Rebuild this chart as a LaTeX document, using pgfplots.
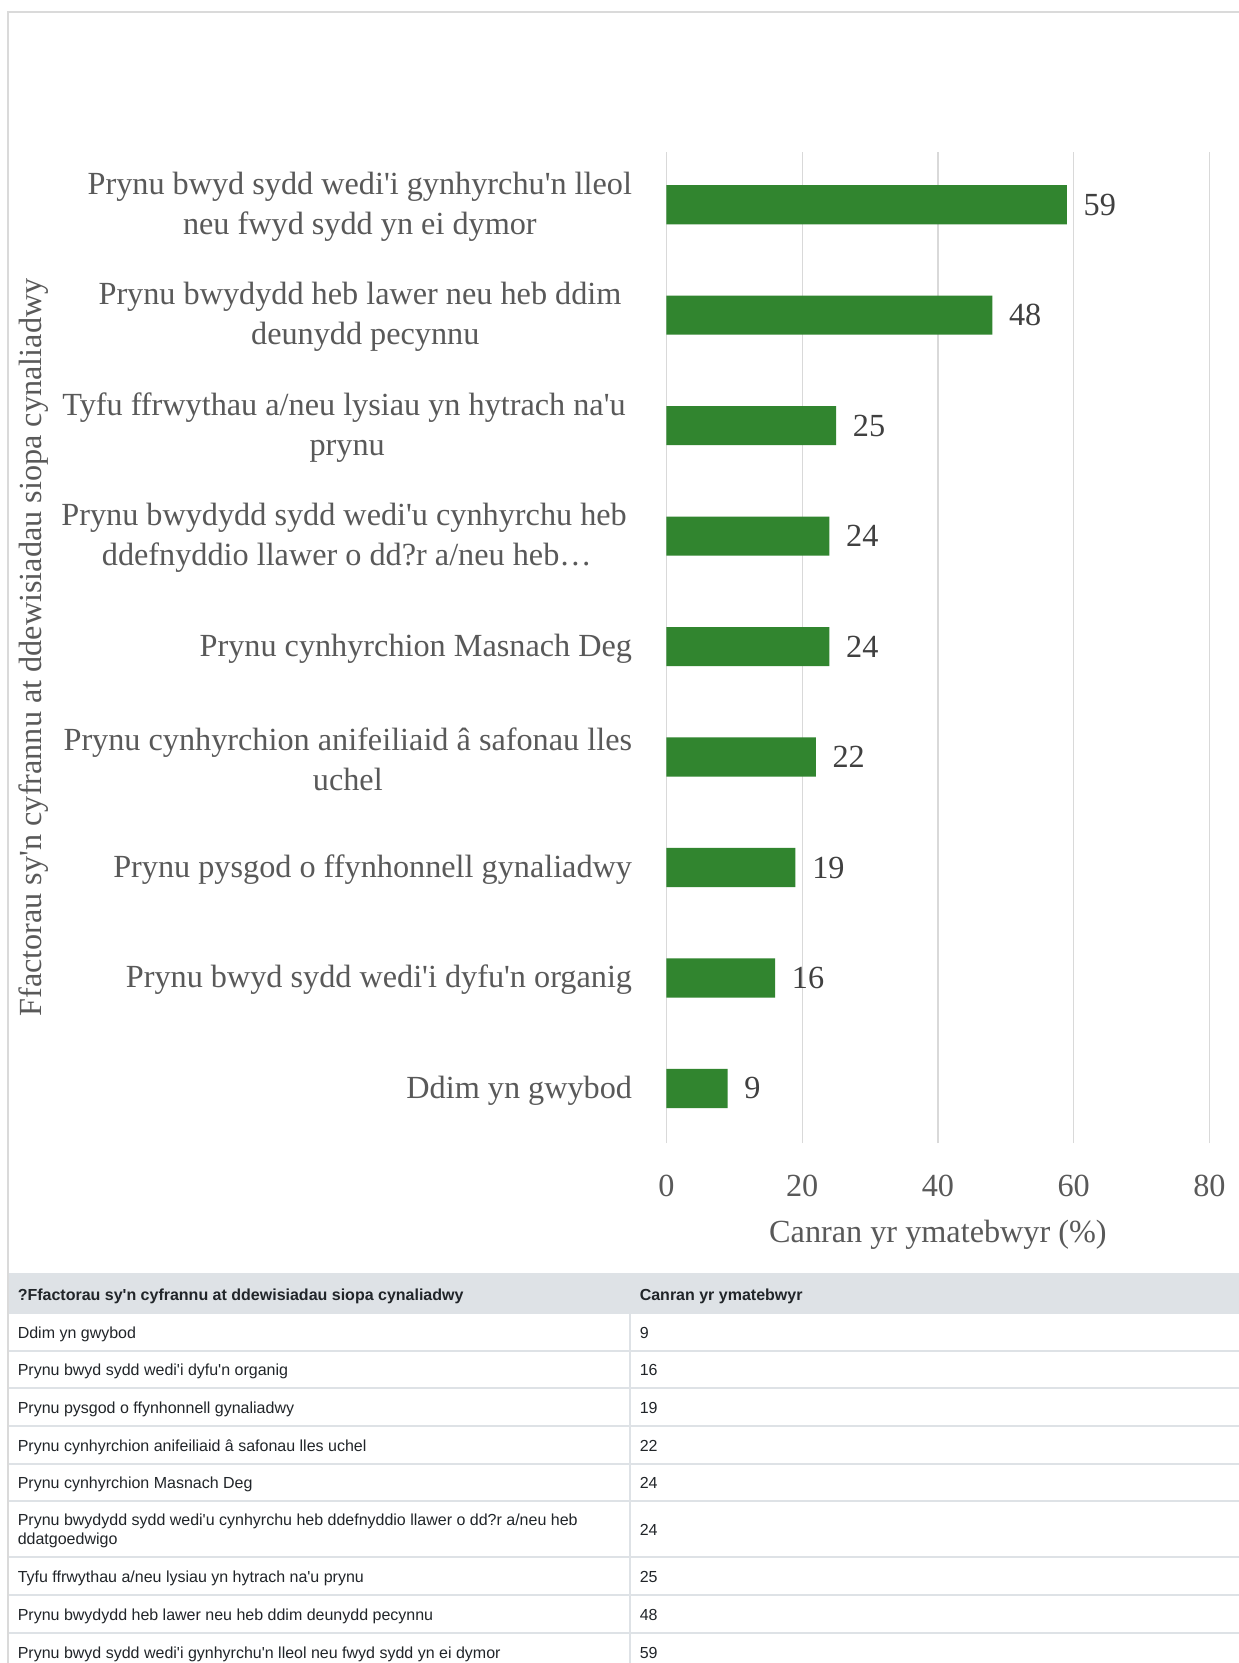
\documentclass[border=0pt]{standalone}
\usepackage{fontspec}
\setmainfont{Liberation Serif}[Ligatures=TeXOff]
\newfontfamily\tablefont{Liberation Sans}
\usepackage{pgfplots}
\pgfplotsset{compat=1.18}
\definecolor{bargreen}{RGB}{49,133,47}
\definecolor{labelgrey}{RGB}{89,89,89}
\definecolor{valgrey}{RGB}{64,64,64}
\definecolor{gridgrey}{RGB}{217,217,217}
\definecolor{tablegrey}{RGB}{222,226,230}
\definecolor{tabletext}{RGB}{33,37,41}
\definecolor{framegrey}{RGB}{218,218,218}
\newcommand\chartfont{\fontsize{8.06pt}{10pt}\selectfont}
\begin{document}
\begin{tikzpicture}
\useasboundingbox (0,0) rectangle (309.75pt,-415.75pt);
\fill[white] (0,0) rectangle (309.75pt,-415.75pt);
\begin{scope}[x=0.25pt,y=-0.25pt,
  tcell/.style={anchor=base west, inner sep=0pt, font=\tablefont\fontsize{4.0pt}{4.75pt}\selectfont, text=tabletext}]
  % outer frame
  \draw[framegrey, line width=0.5pt] (8,1700) -- (8,12) -- (1260,12);
  % table header band
  \fill[tablegrey] (8,1274) rectangle (1260,1313);
  \foreach \yy in {1274,1313,1350.5,1388,1425.5,1463.5,1501,1557,1595,1633}
    \draw[tablegrey, line width=0.5pt] (8,\yy) -- (1260,\yy);
  \draw[tablegrey, line width=0.5pt] (630,1313) -- (630,1700);
  \draw[framegrey, line width=0.5pt] (8,1270) -- (8,1700);
  % header
  \node[tcell, font=\tablefont\bfseries\fontsize{4.0pt}{4.75pt}\selectfont] at (17,1300) {?Ffactorau sy'n cyfrannu at ddewisiadau siopa cynaliadwy};
  \node[tcell, font=\tablefont\bfseries\fontsize{4.0pt}{4.75pt}\selectfont] at (639,1300) {Canran yr ymatebwyr};
  % rows
  \node[tcell] at (17,1338.25) {Ddim yn gwybod};
  \node[tcell] at (639,1338.25) {9};
  \node[tcell] at (17,1375.75) {Prynu bwyd sydd wedi'i dyfu'n organig};
  \node[tcell] at (639,1375.75) {16};
  \node[tcell] at (17,1413.25) {Prynu pysgod o ffynhonnell gynaliadwy};
  \node[tcell] at (639,1413.25) {19};
  \node[tcell] at (17,1451) {Prynu cynhyrchion anifeiliaid â safonau lles uchel};
  \node[tcell] at (639,1451) {22};
  \node[tcell] at (17,1488.75) {Prynu cynhyrchion Masnach Deg};
  \node[tcell] at (639,1488.75) {24};
  \node[tcell] at (17,1525) {Prynu bwydydd sydd wedi'u cynhyrchu heb ddefnyddio llawer o dd?r a/neu heb};
  \node[tcell] at (17,1544) {ddatgoedwigo};
  \node[tcell] at (639,1535.5) {24};
  \node[tcell] at (17,1582.5) {Tyfu ffrwythau a/neu lysiau yn hytrach na'u prynu};
  \node[tcell] at (639,1582.5) {25};
  \node[tcell] at (17,1620.5) {Prynu bwydydd heb lawer neu heb ddim deunydd pecynnu};
  \node[tcell] at (639,1620.5) {48};
  \node[tcell] at (17,1658.5) {Prynu bwyd sydd wedi'i gynhyrchu'n lleol neu fwyd sydd yn ei dymor};
  \node[tcell] at (639,1658.5) {59};
\end{scope}
\begin{axis}[
  at={(166.625pt,-285.75pt)}, anchor=south west,
  scale only axis, width=135.75pt, height=247.75pt,
  xbar, xmin=0, xmax=80, ymin=-0.494, ymax=8.477,
  bar width=0.354,
  xtick={0,20,40,60,80}, ytick={0,1,2,3,4,5,6,7,8},
  yticklabels={
    {Ddim yn gwybod},
    {Prynu bwyd sydd wedi'i dyfu'n organig},
    {Prynu pysgod o ffynhonnell gynaliadwy},
    {Prynu cynhyrchion anifeiliaid â safonau lles\\uchel},
    {Prynu cynhyrchion Masnach Deg},
    {Prynu bwydydd sydd wedi'u cynhyrchu heb\hspace*{1.3pt}\\ddefnyddio llawer o dd?r a/neu heb…},
    {Tyfu ffrwythau a/neu lysiau yn hytrach na'u\hspace*{1.6pt}\\prynu},
    {Prynu bwydydd heb lawer neu heb ddim\hspace*{2.65pt}\\deunydd pecynnu},
    {Prynu bwyd sydd wedi'i gynhyrchu'n lleol\\neu fwyd sydd yn ei dymor}},
  xmajorgrids, ymajorgrids=false, grid style={gridgrey, line width=0.35pt},
  axis line style={draw=none}, major tick length=0pt,
  tick label style={font=\chartfont, text=labelgrey, inner sep=0pt},
  yticklabel style={align=center, anchor=east, xshift=-8.4pt, yshift=-0.5pt},
  xticklabel style={anchor=north, yshift=-7.9pt},
  /pgf/number format/assume math mode=true,
  xlabel={Canran yr ymatebwyr (\%)},
  ylabel={Ffactorau sy'n cyfrannu at ddewisiadau siopa cynaliadwy},
  label style={font=\chartfont, text=labelgrey, inner sep=0pt},
  xlabel style={at={(axis description cs:0.5,-0.0925)}, anchor=center},
  ylabel style={at={(axis description cs:-1.1648,0.5)}, anchor=center},
  nodes near coords,
  nodes near coords style={font=\chartfont, text=valgrey, anchor=west, inner sep=0pt, xshift=4pt},
]
\addplot[fill=bargreen, draw=none] coordinates {(9,0) (16,1) (19,2) (22,3) (24,4) (24,5) (25,6) (48,7) (59,8)};
\end{axis}
\end{tikzpicture}
\end{document}
